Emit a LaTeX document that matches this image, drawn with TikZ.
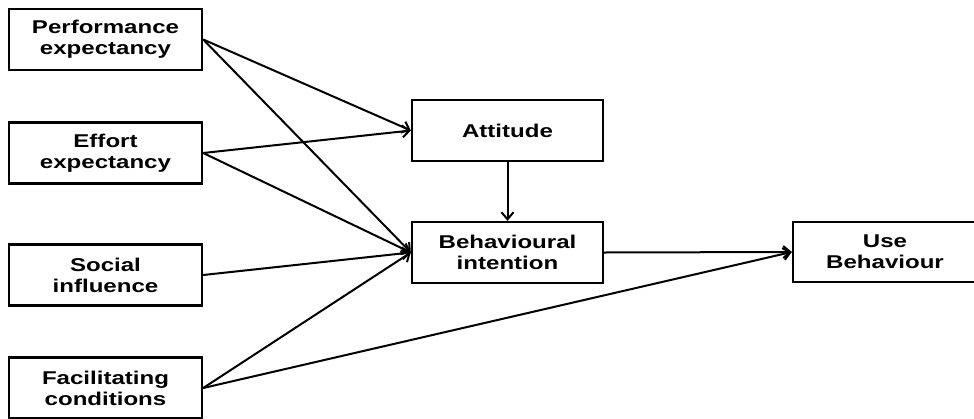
\documentclass[tikz,border=0pt]{standalone}
\usepackage{fontspec}
\setmainfont[FakeStretch=1.3]{Liberation Sans}
\usetikzlibrary{arrows.meta}
\begin{document}
\begin{tikzpicture}[x=1pt,y=-1pt,
  box/.style={draw=black,line width=2.4pt,minimum width=193pt,minimum height=61pt,
    inner sep=0pt,align=center,font=\fontsize{18.5}{21}\selectfont\bfseries},
  conn/.style={draw=black,line width=2pt,-{Straight Barb[length=7pt,width=12pt,line width=2pt]}}]
\useasboundingbox (0,0) rectangle (974,418);
\fill[white] (0,0) rectangle (974,418);
\node[box] (pe) at (105.5,39.5) {Performance\\expectancy};
\node[box] (ee) at (105.5,153) {Effort\\expectancy};
\node[box] (si) at (105.5,275) {Social\\influence};
\node[box] (fc) at (105.5,388) {Facilitating\\conditions};
\node[box,minimum width=191pt] (att) at (507.5,130.5) {Attitude};
\node[box,minimum width=191pt] (bi) at (507.5,252.5) {Behavioural\\intention};
\node[box,minimum width=184pt,minimum height=60pt] (ub) at (885,252) {Use\\Behaviour};
\draw[conn] (pe.east) -- (att.west);
\draw[conn] (pe.east) -- (bi.west);
\draw[conn] (ee.east) -- (att.west);
\draw[conn] (ee.east) -- (bi.west);
\draw[conn] (si.east) -- (bi.west);
\draw[conn] (fc.east) -- (bi.west);
\draw[conn] (fc.east) -- (ub.west);
\draw[conn] (bi.east) -- (ub.west);
\draw[conn] (att.south) -- (bi.north);
\end{tikzpicture}
\end{document}
